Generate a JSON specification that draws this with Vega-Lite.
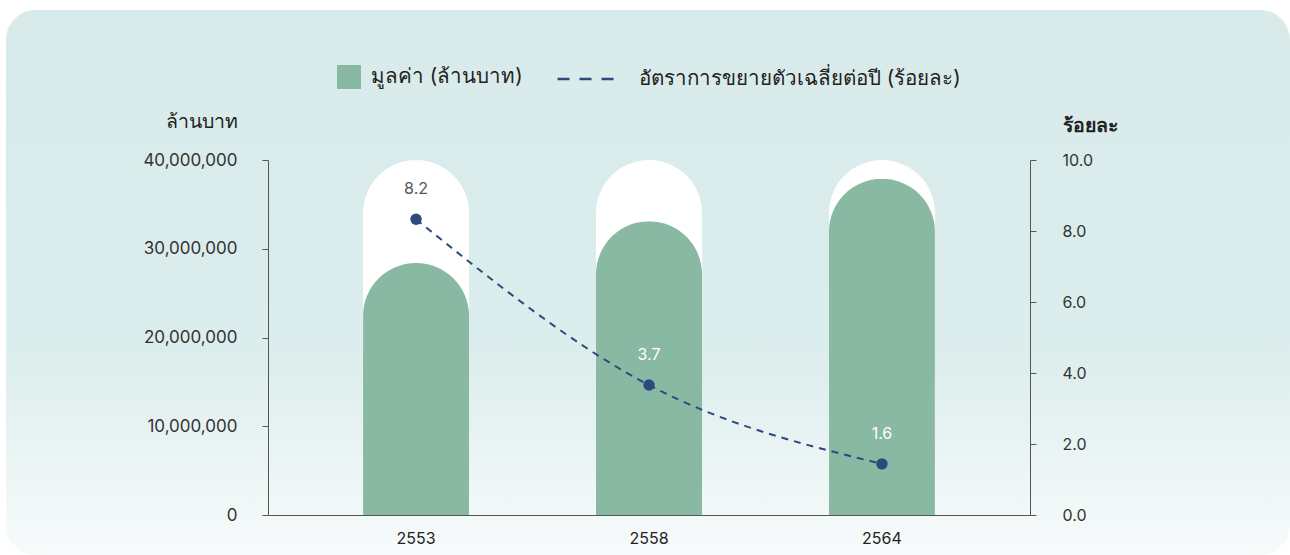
{
  "$schema": "https://vega.github.io/schema/vega-lite/v6.json",
  "width": 1284,
  "height": 545,
  "autosize": {"type": "none"},
  "padding": {"left": 6, "top": 10, "right": 0, "bottom": 0},
  "background": "white",
  "view": {
    "fill": {"gradient": "linear", "x1": 0, "y1": 0, "x2": 0, "y2": 1,
      "stops": [{"offset": 0, "color": "#d8ebea"}, {"offset": 0.62, "color": "#dbedec"}, {"offset": 1, "color": "#f8fbfb"}]},
    "cornerRadius": 30,
    "stroke": null
  },
  "config": {
    "font": "Inter",
    "axis": {"grid": false, "labelFont": "Inter", "titleFont": "Inter"},
    "legend": {"labelFont": "Inter", "labelFontSize": 20.5, "labelColor": "#222", "padding": 0, "labelLimit": 500}
  },
  "data": {
    "values": [
      {"year": "2553", "value": 28400000, "rate": 8.33, "rate_label": "8.2"},
      {"year": "2558", "value": 33100000, "rate": 3.66, "rate_label": "3.7"},
      {"year": "2564", "value": 37900000, "rate": 1.44, "rate_label": "1.6"}
    ]
  },
  "encoding": {
    "x": {
      "field": "year", "type": "nominal",
      "scale": {"range": [262, 1024], "paddingInner": 0.545, "paddingOuter": 0.408},
      "axis": {"orient": "bottom", "offset": -40, "title": null, "labelAngle": 0, "ticks": false,
        "labelPadding": 15, "labelFontSize": 16, "labelColor": "#222", "domainColor": "#555"}
    }
  },
  "layer": [
    {
      "encoding": {
        "y": {"type": "quantitative",
          "scale": {"domain": [0, 40000000], "range": [505, 150]},
          "axis": {"orient": "left", "offset": -262, "values": [0, 10000000, 20000000, 30000000, 40000000],
            "format": ",d", "labelFontSize": 17, "labelColor": "#333", "tickSize": 6, "tickColor": "#555",
            "domainColor": "#555", "labelPadding": 25,
            "title": "ล้านบาท", "titleAngle": 0, "titleAlign": "right", "titleBaseline": "alphabetic",
            "titleX": -31, "titleY": 117, "titleFontSize": 19.5, "titleFontWeight": "normal", "titleColor": "#222"}
        }
      },
      "layer": [
        {
          "mark": {"type": "bar", "color": "white", "cornerRadiusTopLeft": 53, "cornerRadiusTopRight": 53},
          "encoding": {"y": {"datum": 40000000, "type": "quantitative"}}
        },
        {
          "mark": {"type": "bar", "cornerRadiusTopLeft": 53, "cornerRadiusTopRight": 53},
          "encoding": {
            "y": {"field": "value", "type": "quantitative"},
            "color": {"datum": "มูลค่า (ล้านบาท)", "type": "nominal",
              "scale": {"range": ["#89b8a3"]},
              "legend": {"title": null, "orient": "none", "legendX": 331, "legendY": 55,
                "symbolType": "square", "symbolSize": 576, "symbolStrokeWidth": 0, "labelOffset": 10}}
          }
        }
      ]
    },
    {
      "encoding": {
        "y": {"field": "rate", "type": "quantitative",
          "scale": {"domain": [0, 10], "range": [505, 150]},
          "axis": {"orient": "right", "offset": -260, "values": [0, 2, 4, 6, 8, 10],
            "format": ".1f", "labelFontSize": 16, "labelColor": "#333", "tickSize": 6, "tickColor": "#555",
            "domainColor": "#555", "labelPadding": 26,
            "title": "ร้อยละ", "titleAngle": 0, "titleAlign": "left", "titleBaseline": "alphabetic",
            "titleX": 32, "titleY": 121, "titleFontSize": 19.5, "titleFontWeight": "bold", "titleColor": "#222"}
        }
      },
      "layer": [
        {
          "mark": {"type": "line", "interpolate": "monotone", "color": "#2e4a7d", "opacity": 0},
          "encoding": {
            "strokeDash": {"datum": "อัตราการขยายตัวเฉลี่ยต่อปี (ร้อยละ)", "type": "nominal",
              "scale": {"range": [[12, 10]]},
              "legend": {"title": null, "orient": "none", "legendX": 550, "legendY": 39.5,
                "symbolType": "stroke", "symbolSize": 3136, "symbolStrokeColor": "#2e4a7d",
                "symbolStrokeWidth": 2.5, "symbolOpacity": 1, "labelOffset": 24}}
          }
        },
        {
          "mark": {"type": "line", "interpolate": "monotone", "color": "#2e4a7d", "strokeWidth": 2, "strokeDash": [7, 6]}
        },
        {
          "mark": {"type": "point", "filled": true, "size": 130, "color": "#2e4a7d", "opacity": 1}
        },
        {
          "mark": {"type": "text", "dy": -30, "fontSize": 16, "baseline": "middle"},
          "encoding": {
            "text": {"field": "rate_label"},
            "color": {"condition": {"test": "datum.year === '2553'", "value": "#555"}, "value": "white"}
          }
        }
      ]
    }
  ],
  "resolve": {"scale": {"y": "independent", "color": "independent", "strokeDash": "independent"}}
}
